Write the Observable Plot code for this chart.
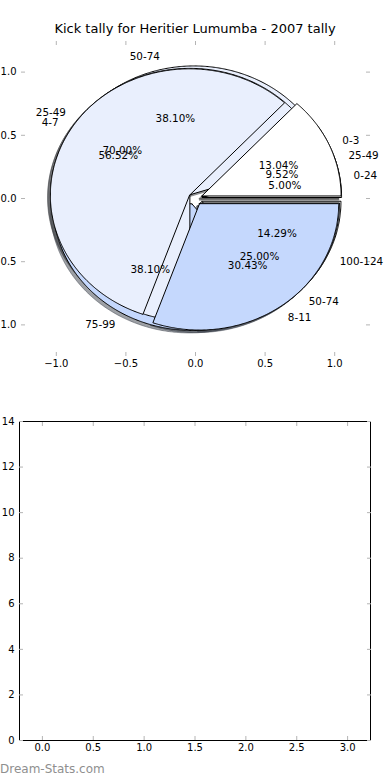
<!DOCTYPE html>
<html>
<head>
<meta charset="utf-8">
<script src="https://cdn.jsdelivr.net/npm/d3@7"></script>
<script src="https://cdn.jsdelivr.net/npm/@observablehq/plot@0.6"></script>
<style>
  body { margin: 0; background: #fff; }
  #wrap { position: relative; width: 390px; height: 780px; overflow: hidden; font-family: "DejaVu Sans", sans-serif; background: #fff; }
  #top { position: absolute; left: 0; top: 0; }
  #bottom { position: absolute; left: 0; top: 390px; }
  #title { position: absolute; left: 0; top: 21px; width: 390px; text-align: center; font-size: 13px; line-height: 16px; color: #000; }
  #mark { position: absolute; left: 0; top: 762px; font-size: 12px; line-height: 14px; color: #8f8f8f; }
</style>
</head>
<body>
<div id="wrap">
  <div id="top"></div>
  <div id="title">Kick tally for Heritier Lumumba - 2007 tally</div>
  <div id="bottom"></div>
  <div id="mark">Dream-Stats.com</div>
</div>
<script>
// ---- data ----
const pieALabels = ["25-49", "50-74", "75-99", "100-124"];
const pieAValues = [2, 8, 8, 3];
const pieBLabels = ["0-24", "25-49", "50-74"];
const pieBValues = [1, 14, 5];
const pieCLabels = ["0-3", "4-7", "8-11"];
const pieCValues = [3, 13, 7];
const sliceColors = ["#ffffff", "#e9effd", "#c5d8fd"];

const pieXTicks = [-1, -0.5, 0, 0.5, 1];
const pieYTicks = [-1, -0.5, 0, 0.5, 1];
const barXTicks = [0, 0.5, 1, 1.5, 2, 2.5, 3];
const barYTicks = [0, 2, 4, 6, 8, 10, 12, 14];

// ---- pie geometry (matplotlib-style: start at 0°, counter-clockwise) ----
const EXPLODE = 0.05, SHADOW = -0.02, LABEL_DIST = 1.1, PCT_DIST = 0.6;
const pies = [[pieALabels, pieAValues], [pieBLabels, pieBValues], [pieCLabels, pieCValues]];
const wedges = [];
pies.forEach(([labels, values]) => {
  const total = d3.sum(values);
  let t1 = 0;
  values.forEach((v, i) => {
    const frac = v / total;
    const t2 = t1 + frac;
    const tm = Math.PI * (t1 + t2);
    const cx = EXPLODE * Math.cos(tm), cy = EXPLODE * Math.sin(tm);
    const a1 = 2 * Math.PI * t1, a2 = 2 * Math.PI * t2;
    const n = Math.max(2, Math.ceil((a2 - a1) / (Math.PI / 360)));
    const pts = [{x: cx, y: cy}];
    for (let k = 0; k <= n; k++) {
      const a = a1 + (a2 - a1) * k / n;
      pts.push({x: cx + Math.cos(a), y: cy + Math.sin(a)});
    }
    pts.push({x: cx, y: cy});
    wedges.push({
      pts,
      color: sliceColors[i % sliceColors.length],
      label: labels[i],
      pct: (frac * 100).toFixed(2) + "%",
      lx: cx + LABEL_DIST * Math.cos(tm),
      ly: cy + LABEL_DIST * Math.sin(tm),
      px: cx + PCT_DIST * Math.cos(tm),
      py: cy + PCT_DIST * Math.sin(tm)
    });
    t1 = t2;
  });
});

function shade(c) {
  const r = d3.rgb(c);
  return d3.rgb(r.r * 0.3, r.g * 0.3, r.b * 0.3).formatHex();
}

const tickGray = "#b4b4b4";
const fmt1 = d3.format(".1f");
const FS = 10.4;

const shadowMarks = wedges.map(w => Plot.line(w.pts, {
  x: d => d.x + SHADOW, y: d => d.y + SHADOW,
  fill: shade(w.color), fillOpacity: 0.5,
  stroke: shade(w.color), strokeOpacity: 0.5, strokeWidth: 1
}));
const wedgeMarks = wedges.map(w => Plot.line(w.pts, {
  x: "x", y: "y", fill: w.color, stroke: "black", strokeWidth: 1
}));

const topChart = Plot.plot({
  width: 390, height: 390,
  marginTop: 40, marginBottom: 34, marginLeft: 21, marginRight: 21,
  x: {domain: [-1.25, 1.25]},
  y: {domain: [-1.25, 1.25]},
  style: {fontFamily: "DejaVu Sans, sans-serif", fontSize: "10px", background: "transparent", overflow: "hidden"},
  marks: [
    Plot.axisX(pieXTicks, {anchor: "bottom", tickSize: -4, color: tickGray, tickFormat: () => "", label: null}),
    Plot.axisX(pieXTicks, {anchor: "top", tickSize: -4, color: tickGray, tickFormat: () => "", label: null}),
    Plot.axisY(pieYTicks, {anchor: "left", tickSize: -4, color: tickGray, tickFormat: () => "", label: null}),
    Plot.axisY(pieYTicks, {anchor: "right", tickSize: -4, color: tickGray, tickFormat: () => "", label: null}),
    Plot.axisX(pieXTicks, {anchor: "bottom", tickSize: 0, tickPadding: 3, tickFormat: fmt1, label: null, color: "black", fontSize: 10}),
    Plot.axisY(pieYTicks, {anchor: "left", tickSize: 0, tickPadding: 5, tickFormat: fmt1, label: null, color: "black", fontSize: 10}),
    ...shadowMarks,
    ...wedgeMarks,
    Plot.text(wedges.filter(w => w.lx > 0), {x: "lx", y: "ly", text: "label", textAnchor: "start", lineAnchor: "middle", fontSize: FS, fill: "black"}),
    Plot.text(wedges.filter(w => w.lx <= 0), {x: "lx", y: "ly", text: "label", textAnchor: "end", lineAnchor: "middle", fontSize: FS, fill: "black"}),
    Plot.text(wedges, {x: "px", y: "py", text: "pct", textAnchor: "middle", lineAnchor: "middle", fontSize: FS, fill: "black"})
  ]
});
document.getElementById("top").appendChild(topChart);

const bottomChart = Plot.plot({
  width: 390, height: 390,
  marginTop: 31, marginBottom: 40, marginLeft: 19, marginRight: 20,
  x: {domain: [-0.225, 3.225]},
  y: {domain: [0, 14]},
  style: {fontFamily: "DejaVu Sans, sans-serif", fontSize: "10px", background: "transparent", overflow: "hidden"},
  marks: [
    Plot.frame({stroke: "black", strokeWidth: 1}),
    Plot.axisX(barXTicks, {anchor: "bottom", tickSize: -4, color: tickGray, tickFormat: () => "", label: null}),
    Plot.axisX(barXTicks, {anchor: "top", tickSize: -4, color: tickGray, tickFormat: () => "", label: null}),
    Plot.axisY(barYTicks, {anchor: "left", tickSize: -4, color: tickGray, tickFormat: () => "", label: null}),
    Plot.axisY(barYTicks, {anchor: "right", tickSize: -4, color: tickGray, tickFormat: () => "", label: null}),
    Plot.axisX(barXTicks, {anchor: "bottom", tickSize: 0, tickPadding: 3, tickFormat: fmt1, label: null, color: "black", fontSize: 10}),
    Plot.axisY(barYTicks, {anchor: "left", tickSize: 0, tickPadding: 5, tickFormat: d3.format("d"), label: null, color: "black", fontSize: 10})
  ]
});
document.getElementById("bottom").appendChild(bottomChart);
</script>
</body>
</html>
